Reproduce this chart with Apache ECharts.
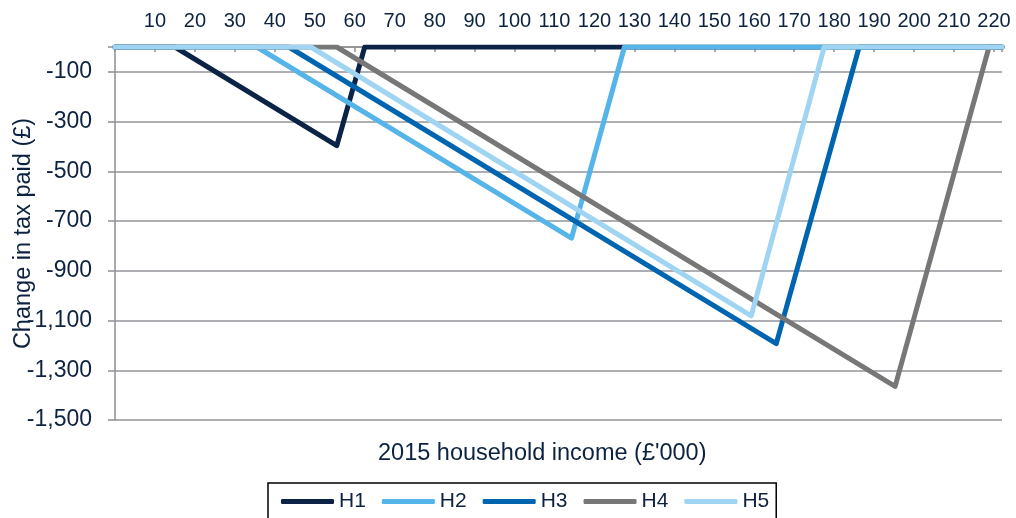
<!DOCTYPE html>
<html>
<head>
<meta charset="utf-8">
<script src="https://cdn.jsdelivr.net/npm/echarts@6/dist/echarts.min.js"></script>
<style>
  html, body { margin: 0; padding: 0; background: #fff; }
  #main { width: 1016px; height: 518px; }
</style>
</head>
<body>
<div id="main"></div>
<script>
// household income (£'000) at each turning point, and the change in tax paid (£)
var seriesNames = ['H1', 'H2', 'H3', 'H4', 'H5'];
var incomeH1 = [0, 15, 55.5, 62.5, 222];
var taxH1 = [0, 0, -397, 0, 0];
var incomeH2 = [0, 35.5, 114.25, 127.5, 222];
var taxH2 = [0, 0, -769, 0, 0];
var incomeH3 = [0, 43.5, 165.5, 186.25, 222];
var taxH3 = [0, 0, -1193, 0, 0];
var incomeH4 = [0, 55.5, 195.25, 218.75, 222];
var taxH4 = [0, 0, -1365, 0, 0];
var incomeH5 = [0, 49, 159.25, 177.5, 222];
var taxH5 = [0, 0, -1081, 0, 0];
var colors = ['#0b2346', '#56b5e8', '#0065b1', '#777777', '#9fd5f2'];

var incomes = [incomeH1, incomeH2, incomeH3, incomeH4, incomeH5];
var taxes = [taxH1, taxH2, taxH3, taxH4, taxH5];

var textColor = '#0d2240';
var fontName = 'Liberation Sans';

var withCommas = function (v) {
    var s = String(Math.abs(v)).replace(/\B(?=(\d{3})+(?!\d))/g, ',');
    return (v < 0 ? '-' : '') + s;
};

var series = [];
for (var i = 0; i < seriesNames.length; i++) {
    var pts = [];
    for (var j = 0; j < incomes[i].length; j++) {
        pts.push([incomes[i][j], taxes[i][j]]);
    }
    series.push({
        name: seriesNames[i],
        type: 'line',
        data: pts,
        showSymbol: false,
        symbol: 'none',
        color: colors[i],
        lineStyle: { width: 5, color: colors[i], cap: 'round', join: 'round' },
        animation: false
    });
}

var option = {
    backgroundColor: '#fff',
    textStyle: { fontFamily: fontName, color: textColor },
    grid: { left: 115, right: 14, top: 47, bottom: 98, containLabel: false, outerBoundsMode: 'none' },
    xAxis: {
        type: 'value',
        position: 'top',
        min: 0,
        max: 222,
        interval: 10,
        axisLine: { show: true, onZero: false, lineStyle: { color: '#8e8f93', width: 1.5 } },
        axisTick: { show: true, inside: true, length: 5, lineStyle: { color: '#8e8f93', width: 1.5 } },
        splitLine: { show: false },
        axisLabel: {
            margin: 16,
            fontSize: 20,
            color: textColor,
            fontFamily: fontName,
            formatter: function (v) {
                return (v > 0 && v % 10 === 0) ? String(v) : '';
            }
        }
    },
    yAxis: {
        type: 'value',
        min: -1500,
        max: 0,
        interval: 200,
        name: 'Change in tax paid (£)',
        nameLocation: 'middle',
        nameGap: 79,
        nameRotate: 90,
        nameMoveOverlap: false,
        nameTextStyle: { fontSize: 23.5, color: textColor, fontFamily: fontName },
        axisLine: { show: true, lineStyle: { color: '#8e8f93', width: 1.5 } },
        axisTick: { show: true, length: 7, lineStyle: { color: '#8e8f93', width: 1.5 } },
        splitLine: { show: true, lineStyle: { color: '#939598', width: 1.5 } },
        axisLabel: {
            margin: 23,
            fontSize: 23,
            color: textColor,
            fontFamily: fontName,
            formatter: function (v) {
                return v === 0 ? '' : withCommas(v);
            }
        }
    },
    legend: {
        data: seriesNames,
        left: 268,
        top: 483,
        orient: 'horizontal',
        icon: 'roundRect',
        itemWidth: 53,
        itemHeight: 5,
        itemGap: 16,
        padding: [8, 7, 8, 13],
        borderColor: '#000',
        borderWidth: 1.5,
        backgroundColor: '#fff',
        textStyle: { fontSize: 21, color: textColor, fontFamily: fontName }
    },
    graphic: [{
        type: 'text',
        left: 378,
        top: 442,
        style: {
            text: "2015 household income (£'000)",
            fontSize: 23.5,
            fontFamily: fontName,
            fill: textColor
        }
    }],
    series: series
};

var mainEchart = echarts.init(document.getElementById('main'));
mainEchart.setOption(option, true);
</script>
</body>
</html>
